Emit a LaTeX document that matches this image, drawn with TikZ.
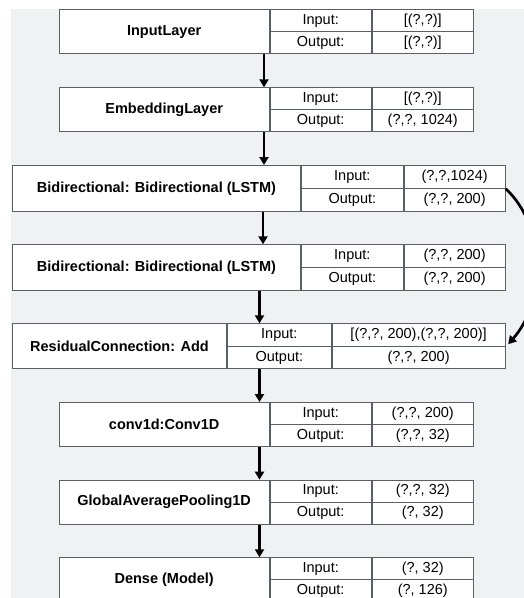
\documentclass[tikz,border=0pt]{standalone}
\usepackage{fontspec}
\setmainfont{Liberation Sans}
\usetikzlibrary{arrows.meta}
\definecolor{canvas}{HTML}{F0F1F3}
\definecolor{rim}{HTML}{5A5E66}

\begin{document}
\begin{tikzpicture}[x=1pt, y=-1pt, font=\fontsize{14.5}{16}\selectfont,
  namebox/.style={draw=rim, fill=white, line width=.9pt, anchor=north west, inner sep=0pt, minimum height=44pt, font=\fontsize{14.5}{16}\selectfont\bfseries},
  cell/.style={draw=rim, fill=white, line width=.9pt, anchor=north west, inner sep=0pt, minimum height=22pt, text height=10.5pt, text depth=3pt},
  flow/.style={line width=2.7pt, -{Triangle[length=8pt,width=9pt]}}]
	\useasboundingbox (0,0) rectangle (524,598);
	\clip (0,0) rectangle (524,598);
	\fill[canvas] (11,9) rectangle (524,598);
	% input
	\node[namebox, minimum width=210pt] (inp) at (58.7,9.3) {InputLayer};
	\node[cell, minimum width=101.3pt] (inpI) at (inp.north east) {Input:};
	\node[cell, minimum width=101pt] (inpIv) at (inpI.north east) {[(?,?)]};
	\node[cell, minimum width=101.3pt, anchor=south west] (inpO) at (inp.south east) {Output:};
	\node[cell, minimum width=101pt, anchor=south west] (inpOv) at (inpO.south east) {[(?,?)]};
	% embedding
	\node[namebox, minimum width=210pt] (emb) at (58.7,87.3) {EmbeddingLayer};
	\node[cell, minimum width=101.3pt] (embI) at (emb.north east) {Input:};
	\node[cell, minimum width=101pt] (embIv) at (embI.north east) {[(?,?)]};
	\node[cell, minimum width=101.3pt, anchor=south west] (embO) at (emb.south east) {Output:};
	\node[cell, minimum width=101pt, anchor=south west] (embOv) at (embO.south east) {(?,?, 1024)};
	% first bidirectional
	\node[namebox, minimum width=288.6pt, minimum height=45.6pt] (bia) at (11.7,165) {Bidirectional: Bidirectional (LSTM)};
	\node[cell, minimum width=101.4pt, minimum height=22.8pt] (biaI) at (bia.north east) {Input:};
	\node[cell, minimum width=101.3pt, minimum height=22.8pt] (biaIv) at (biaI.north east) {(?,?,1024)};
	\node[cell, minimum width=101.4pt, minimum height=22.8pt, anchor=south west] (biaO) at (bia.south east) {Output:};
	\node[cell, minimum width=101.3pt, minimum height=22.8pt, anchor=south west] (biaOv) at (biaO.south east) {(?,?, 200)};
	% second bidirectional
	\node[namebox, minimum width=288.6pt, minimum height=45.6pt] (bib) at (11.7,244.3) {Bidirectional: Bidirectional (LSTM)};
	\node[cell, minimum width=101.4pt, minimum height=22.8pt] (bibI) at (bib.north east) {Input:};
	\node[cell, minimum width=101.3pt, minimum height=22.8pt] (bibIv) at (bibI.north east) {(?,?, 200)};
	\node[cell, minimum width=101.4pt, minimum height=22.8pt, anchor=south west] (bibO) at (bib.south east) {Output:};
	\node[cell, minimum width=101.3pt, minimum height=22.8pt, anchor=south west] (bibOv) at (bibO.south east) {(?,?, 200)};
	% residual
	\node[namebox, minimum width=214.6pt, minimum height=45pt] (res) at (11.7,323.3) {ResidualConnection: Add};
	\node[cell, minimum width=103.4pt, minimum height=22.5pt] (resI) at (res.north east) {Input:};
	\node[cell, minimum width=173.3pt, minimum height=22.5pt] (resIv) at (resI.north east) {[(?,?, 200),(?,?, 200)]};
	\node[cell, minimum width=103.4pt, minimum height=22.5pt, anchor=south west] (resO) at (res.south east) {Output:};
	\node[cell, minimum width=173.3pt, minimum height=22.5pt, anchor=south west] (resOv) at (resO.south east) {(?,?, 200)};
	% conv1d
	\node[namebox, minimum width=210pt] (cnv) at (58.7,402) {conv1d:Conv1D};
	\node[cell, minimum width=101.3pt] (cnvI) at (cnv.north east) {Input:};
	\node[cell, minimum width=101pt] (cnvIv) at (cnvI.north east) {(?,?, 200)};
	\node[cell, minimum width=101.3pt, anchor=south west] (cnvO) at (cnv.south east) {Output:};
	\node[cell, minimum width=101pt, anchor=south west] (cnvOv) at (cnvO.south east) {(?,?, 32)};
	% pooling
	\node[namebox, minimum width=210pt] (gap) at (58.7,479.7) {GlobalAveragePooling1D};
	\node[cell, minimum width=101.3pt] (gapI) at (gap.north east) {Input:};
	\node[cell, minimum width=101pt] (gapIv) at (gapI.north east) {(?,?, 32)};
	\node[cell, minimum width=101.3pt, anchor=south west] (gapO) at (gap.south east) {Output:};
	\node[cell, minimum width=101pt, anchor=south west] (gapOv) at (gapO.south east) {(?, 32)};
	% dense
	\node[namebox, minimum width=210pt] (dns) at (58.7,557.3) {Dense (Model)};
	\node[cell, minimum width=101.3pt] (dnsI) at (dns.north east) {Input:};
	\node[cell, minimum width=101pt] (dnsIv) at (dnsI.north east) {(?, 32)};
	\node[cell, minimum width=101.3pt, anchor=south west] (dnsO) at (dns.south east) {Output:};
	\node[cell, minimum width=101pt, anchor=south west] (dnsOv) at (dnsO.south east) {(?, 126)};
	% arrows
	\draw[flow] (inp.south -| 264,0) -- (emb.north -| 264,0);
	\draw[flow] (emb.south -| 264,0) -- (bia.north -| 264,0);
	\draw[flow] (bia.south -| 263,0) -- (bib.north -| 263,0);
	\draw[flow] (bib.south -| 259.5,0) -- (resI.north -| 259.5,0);
	\draw[flow] (res.south -| 259.5,0) -- (cnv.north -| 259.5,0);
	\draw[flow] (cnv.south -| 259.5,0) -- (gap.north -| 259.5,0);
	\draw[flow] (gap.south -| 259.5,0) -- (dns.north -| 259.5,0);
	\draw[flow] (biaIv.south east) .. controls (545,225) and (547,300) .. ([shift={(2.5pt,2.5pt)}]resIv.south east);
\end{tikzpicture}
\end{document}
